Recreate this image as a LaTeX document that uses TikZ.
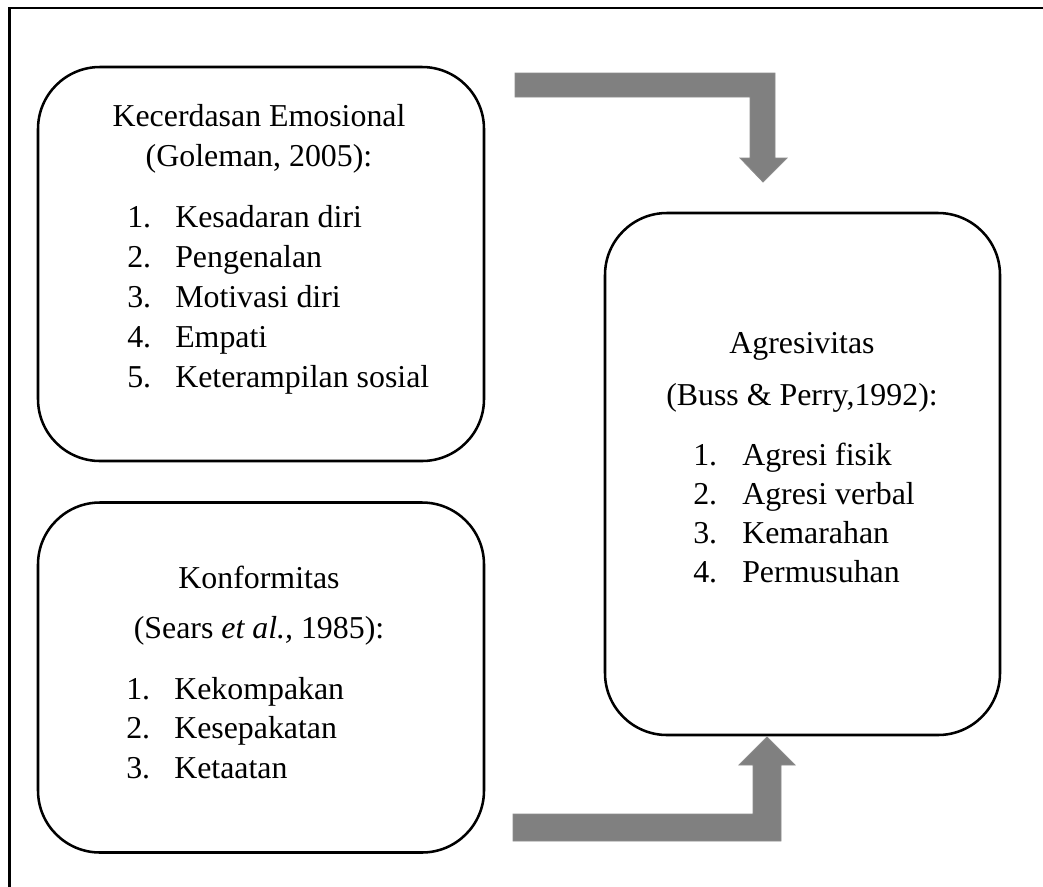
\documentclass[tikz,border=0pt]{standalone}
\usepackage{fontspec}
\setmainfont{Liberation Serif}
\begin{document}
\begin{tikzpicture}[x=0.75pt,y=-0.75pt,
  txt/.style={font=\fontsize{23.9pt}{28pt}\selectfont, inner sep=0pt, anchor=base},
  itm/.style={font=\fontsize{23.9pt}{28pt}\selectfont, inner sep=0pt, anchor=base west},
  rbox/.style={draw=black, line width=1.9pt, rounded corners=46.5pt, inner sep=0pt},
  blockarrow/.style={fill=black!50, draw=black!45, line width=0.6pt}]
\useasboundingbox (0,0) rectangle (1043,886);
\clip (0,0) rectangle (1043,886);
\fill[white] (0,0) rectangle (1043,886);
% outer frame (cut by the image on right and bottom)
\coordinate (fTR) at (1100,8);
\coordinate (fTL) at (9.5,8);
\coordinate (fBL) at (9.5,950);
\draw[line width=1.6pt] (fTR) -- (fTL) -- (fBL);
% boxes
\node[rbox, minimum width=334.5pt, minimum height=295.5pt] (box1) at (261,264) {};
\node[rbox, minimum width=334.5pt, minimum height=262.5pt] (box2) at (261,677.5) {};
\node[rbox, minimum width=296.25pt, minimum height=391.5pt] (box3) at (802.5,474) {};
% box 1 text
\node[txt] (t1) at (259,126) {Kecerdasan Emosional};
\node[txt] (s1) at (259,166) {(Goleman, 2005):};
\foreach \n/\t [count=\i] in {1/Kesadaran diri,2/Pengenalan,3/Motivasi diri,4/Empati,5/Keterampilan sosial}{
  \node[itm] (n1\i) at (127,{227+40*(\i-1)}) {\n.};
  \node[itm] (i1\i) at (175,{227+40*(\i-1)}) {\t};
}
% box 2 text
\node[txt] (t2) at (259,588) {Konformitas};
\node[txt] (s2) at (259,638) {(Sears \textit{et al.,} 1985):};
\foreach \n/\t [count=\i] in {1/Kekompakan,2/Kesepakatan,3/Ketaatan}{
  \node[itm] (n2\i) at (126,{699+39.5*(\i-1)}) {\n.};
  \node[itm] (i2\i) at (174,{699+39.5*(\i-1)}) {\t};
}
% box 3 text
\node[txt] (t3) at (802,353) {Agresivitas};
\node[txt] (s3) at (802,405) {(Buss \& Perry,1992):};
\foreach \n/\t [count=\i] in {1/Agresi fisik,2/Agresi verbal,3/Kemarahan,4/Permusuhan}{
  \node[itm] (n3\i) at (693,{465+39.3*(\i-1)}) {\n.};
  \node[itm] (i3\i) at (742,{465+39.3*(\i-1)}) {\t};
}
% block arrows
\fill[blockarrow] (515,73) -- (775,73) -- (775,158) -- (787,158) -- (763,182) -- (740,158) -- (750,158) -- (750,97) -- (515,97) -- cycle;
\fill[blockarrow] (513,841) -- (781,841) -- (781,765) -- (795,765) -- (767,737) -- (739,765) -- (753,765) -- (753,814) -- (513,814) -- cycle;
\end{tikzpicture}
\end{document}
